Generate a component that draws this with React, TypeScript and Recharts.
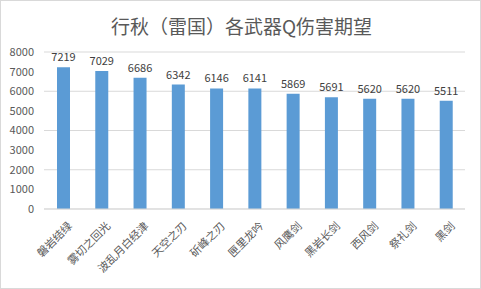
import React from 'react';
import { BarChart, Bar, XAxis, YAxis, CartesianGrid, LabelList } from 'recharts';

const weapons = ['磐岩结绿', '雾切之回光', '波乱月白经津', '天空之刃', '斫峰之刃', '匣里龙吟', '风鹰剑', '黑岩长剑', '西风剑', '祭礼剑', '黑剑'];
const damage = [7219, 7029, 6686, 6342, 6146, 6141, 5869, 5691, 5620, 5620, 5511];
const yTicks = [0, 1000, 2000, 3000, 4000, 5000, 6000, 7000, 8000];

const data = weapons.map((name, i) => ({ name, value: damage[i] }));

const FONT = '"Noto Sans CJK SC", "Microsoft YaHei", sans-serif';

const CategoryTick = (props: any) => {
  const { x, y, payload } = props;
  return (
    <g transform={`translate(${x + 4},${y + 4})`}>
      <text x={0} y={0} dy={8} textAnchor="end" transform="rotate(-45)" fill="#595959" fontSize={11} fontFamily={FONT}>
        {payload.value}
      </text>
    </g>
  );
};

export default function App() {
  return (
    <div style={{ position: 'absolute', left: 0, top: 0, width: 481, height: 289, background: '#fff', boxSizing: 'border-box', border: '1px solid #d9d9d9', fontFamily: FONT }}>
      <div style={{ position: 'absolute', left: 0, top: 11, width: 481, textAlign: 'center', fontSize: 19, color: '#595959' }}>
        行秋（雷国）各武器Q伤害期望
      </div>
      <BarChart width={479} height={287} data={data} margin={{ top: 51, right: 15, left: 0, bottom: 0 }}>
        <CartesianGrid vertical={false} stroke="#d9d9d9" />
        <XAxis dataKey="name" height={79} interval={0} tick={<CategoryTick />} tickLine={false} axisLine={{ stroke: '#d9d9d9' }} />
        <YAxis width={43} domain={[0, 8000]} ticks={yTicks} tickLine={false} axisLine={false} tickMargin={4} tick={{ fill: '#595959', fontSize: 11, fontFamily: FONT }} />
        <Bar dataKey="value" fill="#5B9BD5" barSize={13} isAnimationActive={false}>
          <LabelList dataKey="value" position="top" fill="#404040" fontSize={11} fontFamily={FONT} offset={6} />
        </Bar>
      </BarChart>
    </div>
  );
}
